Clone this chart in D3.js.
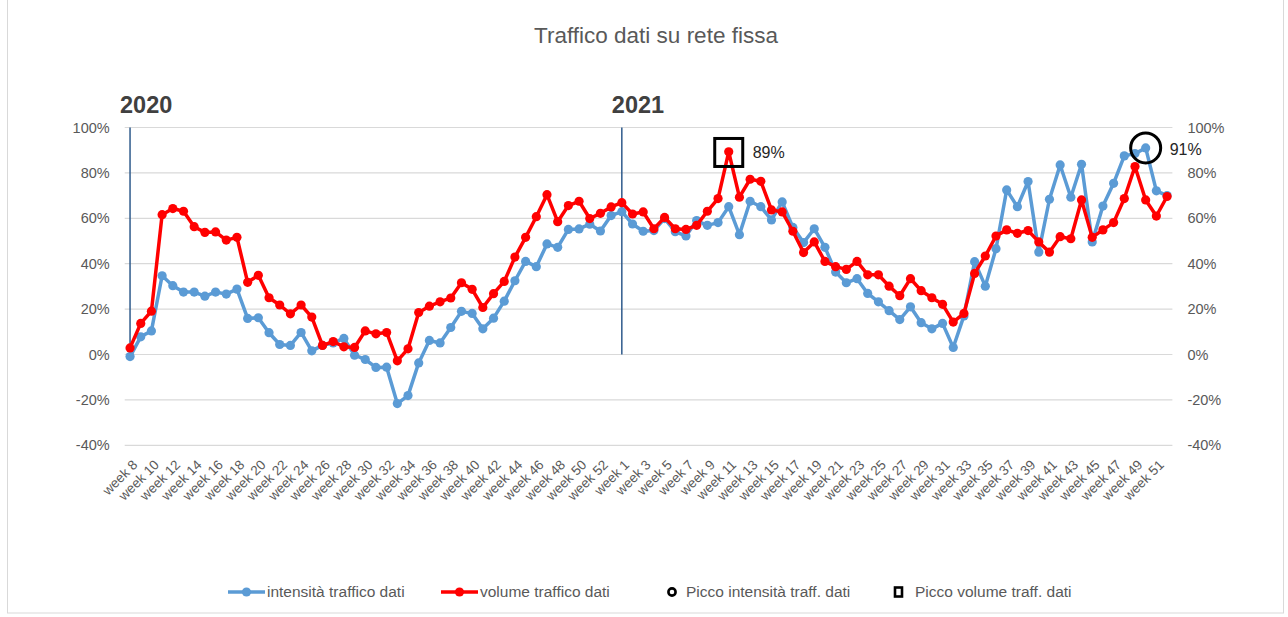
<!DOCTYPE html>
<html>
<head>
<meta charset="utf-8">
<script src="https://cdn.jsdelivr.net/npm/d3@7"></script>
<style>
  body { margin: 0; background: #fff; }
  svg { display: block; font-family: "Liberation Sans", Arial, sans-serif; }
</style>
</head>
<body>
<div id="chart"></div>
<script>
var width = 1288,
    height = 617;

// categories
var weeks2020 = ["week 8","week 9","week 10","week 11","week 12","week 13","week 14","week 15","week 16","week 17",
  "week 18","week 19","week 20","week 21","week 22","week 23","week 24","week 25","week 26","week 27",
  "week 28","week 29","week 30","week 31","week 32","week 33","week 34","week 35","week 36","week 37",
  "week 38","week 39","week 40","week 41","week 42","week 43","week 44","week 45","week 46","week 47",
  "week 48","week 49","week 50","week 51","week 52","week 53"];
var weeks2021 = ["week 1","week 2","week 3","week 4","week 5","week 6","week 7","week 8","week 9","week 10",
  "week 11","week 12","week 13","week 14","week 15","week 16","week 17","week 18","week 19","week 20",
  "week 21","week 22","week 23","week 24","week 25","week 26","week 27","week 28","week 29","week 30",
  "week 31","week 32","week 33","week 34","week 35","week 36","week 37","week 38","week 39","week 40",
  "week 41","week 42","week 43","week 44","week 45","week 46","week 47","week 48","week 49","week 50",
  "week 51","week 52"];

// series values (%)
var intensita = [-0.9, 7.8, 10.4, 34.7, 30.3, 27.5, 27.5, 25.7, 27.5, 26.6,
  28.8, 15.9, 16.2, 9.6, 4.4, 4.0, 9.7, 1.6, 4.0, 5.1,
  7.1, -0.3, -2.2, -5.7, -5.6, -21.6, -18.1, -3.7, 6.2, 5.1,
  11.9, 19.0, 18.1, 11.3, 16.0, 23.5, 32.5, 41.0, 38.7, 48.7,
  47.2, 55.1, 55.3, 57.4, 54.4, 61.2,
  62.9, 57.5, 54.3, 54.6, 59.9, 54.1, 52.2, 59.0, 56.9, 58.1,
  65.1, 52.8, 67.5, 65.1, 59.3, 67.2, 56.0, 49.3, 55.4, 47.2,
  36.3, 31.6, 33.4, 26.9, 23.2, 19.3, 15.4, 21.0, 14.0, 11.3,
  13.7, 3.1, 17.0, 40.9, 30.1, 46.6, 72.5, 65.1, 76.2, 45.1,
  68.4, 83.5, 69.3, 83.8, 49.6, 65.4, 75.4, 87.5, 88.5, 91.0,
  72.1, 70.0];
var volume = [2.9, 13.7, 19.1, 61.6, 64.3, 63.1, 56.3, 53.8, 54.0, 50.4,
  51.6, 31.8, 34.9, 25.0, 21.8, 17.9, 21.8, 16.5, 4.0, 5.7,
  3.4, 3.1, 10.4, 9.1, 9.7, -2.8, 2.5, 18.5, 21.3, 23.2,
  24.9, 31.6, 28.7, 20.7, 26.8, 32.2, 42.9, 51.6, 60.7, 70.4,
  58.5, 65.6, 67.5, 59.9, 62.2, 65.0,
  66.9, 61.9, 62.8, 55.4, 60.4, 55.4, 55.1, 56.9, 63.1, 68.7,
  89.3, 69.3, 77.2, 76.3, 63.7, 62.8, 54.3, 44.9, 49.6, 41.0,
  38.7, 37.5, 41.0, 35.1, 35.1, 30.1, 25.9, 33.4, 28.1, 25.0,
  22.1, 14.3, 18.1, 35.7, 43.4, 52.2, 54.9, 53.4, 54.6, 49.6,
  45.1, 51.9, 51.0, 68.1, 51.6, 54.9, 58.1, 68.7, 82.8, 68.1,
  61.0, 69.6];

var yTicks = [-40, -20, 0, 20, 40, 60, 80, 100];
var yearLabels = [{ label: "2020", week: "2020-week 8" }, { label: "2021", week: "2021-week 1" }];
var peakIntensita = { key: "2021-week 50", value: 91 };
var peakVolume = { key: "2021-week 11", value: 89 };

var keys = weeks2020.map(function(w) { return "2020-" + w; })
  .concat(weeks2021.map(function(w) { return "2021-" + w; }));
var labelOf = {};
keys.forEach(function(k) { labelOf[k] = k.slice(5); });

var margin = { left: 124.7, right: 1172.4, top: 127.5, bottom: 445.3 };

var svg = d3.select("#chart").append("svg")
  .attr("width", width)
  .attr("height", height);

// chart border
svg.append("rect")
  .attr("x", 7.5).attr("y", -1)
  .attr("width", 1276).attr("height", 614)
  .attr("fill", "none")
  .attr("stroke", "#d9d9d9");

var x = d3.scaleBand().domain(keys).range([margin.left, margin.right]);
var y = d3.scaleLinear().domain([-40, 100]).range([margin.bottom, margin.top]);
var cx = function(k) { return x(k) + x.bandwidth() / 2; };

// title
svg.append("text")
  .attr("x", 656).attr("y", 43)
  .attr("text-anchor", "middle")
  .attr("font-size", 22.5)
  .attr("fill", "#595959")
  .text("Traffico dati su rete fissa");

// gridlines
svg.append("g").selectAll("line")
  .data(yTicks)
  .join("line")
  .attr("x1", margin.left).attr("x2", margin.right)
  .attr("y1", function(d) { return y(d); })
  .attr("y2", function(d) { return y(d); })
  .attr("stroke", "#d9d9d9")
  .attr("stroke-width", 1.2);

var fmt = function(d) { return d + "%"; };

// left axis
var yLeft = d3.axisLeft(y).tickValues(yTicks).tickSize(0).tickPadding(15).tickFormat(fmt);
svg.append("g")
  .attr("transform", "translate(" + margin.left + ",0)")
  .call(yLeft)
  .call(function(g) { g.select(".domain").remove(); })
  .selectAll("text")
  .attr("font-size", 14.5)
  .attr("font-family", "Liberation Sans, Arial, sans-serif")
  .attr("fill", "#595959");

// right axis
var yRight = d3.axisRight(y).tickValues(yTicks).tickSize(0).tickPadding(15).tickFormat(fmt);
svg.append("g")
  .attr("transform", "translate(" + margin.right + ",0)")
  .call(yRight)
  .call(function(g) { g.select(".domain").remove(); })
  .selectAll("text")
  .attr("font-size", 14.5)
  .attr("font-family", "Liberation Sans, Arial, sans-serif")
  .attr("fill", "#595959");

// x axis labels, every other week
var xAxis = d3.axisBottom(x)
  .tickValues(keys.filter(function(k, i) { return i % 2 === 0; }))
  .tickSize(0)
  .tickFormat(function(k) { return labelOf[k]; });
svg.append("g")
  .attr("transform", "translate(0," + (margin.bottom + 17) + ")")
  .call(xAxis)
  .call(function(g) { g.select(".domain").remove(); })
  .selectAll("text")
  .attr("font-size", 13.5)
  .attr("font-family", "Liberation Sans, Arial, sans-serif")
  .attr("fill", "#595959")
  .attr("text-anchor", "end")
  .attr("dy", "0.35em")
  .attr("y", 0)
  .attr("transform", "translate(5,0) rotate(-45)");

// year separators
svg.append("g").selectAll("line")
  .data(yearLabels)
  .join("line")
  .attr("x1", function(d) { return cx(d.week); })
  .attr("x2", function(d) { return cx(d.week); })
  .attr("y1", y(100))
  .attr("y2", y(0))
  .attr("stroke", "#2f5b8c")
  .attr("stroke-width", 1.5);

svg.append("g").selectAll("text")
  .data(yearLabels)
  .join("text")
  .attr("x", function(d) { return cx(d.week) - 10; })
  .attr("y", 113)
  .attr("font-size", 23.5)
  .attr("font-weight", "bold")
  .attr("fill", "#404040")
  .text(function(d) { return d.label; });

// series
function drawSeries(values, color) {
  var pts = keys.map(function(k, i) { return { k: k, v: values[i] }; });
  var line = d3.line()
    .x(function(d) { return cx(d.k); })
    .y(function(d) { return y(d.v); });
  svg.append("path")
    .datum(pts)
    .attr("fill", "none")
    .attr("stroke", color)
    .attr("stroke-width", 3.5)
    .attr("stroke-linejoin", "round")
    .attr("d", line);
  svg.append("g").selectAll("circle")
    .data(pts)
    .join("circle")
    .attr("cx", function(d) { return cx(d.k); })
    .attr("cy", function(d) { return y(d.v); })
    .attr("r", 4.6)
    .attr("fill", color);
}
drawSeries(intensita, "#5b9bd5");
drawSeries(volume, "#ff0000");

// peaks
svg.append("rect")
  .attr("x", cx(peakVolume.key) - 14)
  .attr("y", y(peakVolume.value) - 14)
  .attr("width", 28).attr("height", 28)
  .attr("fill", "none")
  .attr("stroke", "#000")
  .attr("stroke-width", 3);
svg.append("text")
  .attr("x", cx(peakVolume.key) + 24)
  .attr("y", y(peakVolume.value) + 6)
  .attr("font-size", 16)
  .attr("fill", "#262626")
  .text(peakVolume.value + "%");

svg.append("circle")
  .attr("cx", cx(peakIntensita.key))
  .attr("cy", y(peakIntensita.value))
  .attr("r", 15)
  .attr("fill", "none")
  .attr("stroke", "#000")
  .attr("stroke-width", 3);
svg.append("text")
  .attr("x", cx(peakIntensita.key) + 24)
  .attr("y", y(peakIntensita.value) + 7)
  .attr("font-size", 16)
  .attr("fill", "#262626")
  .text(peakIntensita.value + "%");

// legend
var ly = 592;
var legend = svg.append("g").attr("font-size", 15.5).attr("fill", "#595959");

function legendLine(x0, color, label) {
  legend.append("line")
    .attr("x1", x0).attr("x2", x0 + 37)
    .attr("y1", ly).attr("y2", ly)
    .attr("stroke", color).attr("stroke-width", 3.5);
  legend.append("circle")
    .attr("cx", x0 + 18.5).attr("cy", ly).attr("r", 4.6).attr("fill", color);
  legend.append("text")
    .attr("x", x0 + 39).attr("y", ly + 5)
    .text(label);
}
legendLine(228, "#5b9bd5", "intensità traffico dati");
legendLine(441, "#ff0000", "volume traffico dati");

legend.append("circle")
  .attr("cx", 672).attr("cy", ly).attr("r", 3.6)
  .attr("fill", "none").attr("stroke", "#000").attr("stroke-width", 2.6);
legend.append("text").attr("x", 686).attr("y", ly + 5).text("Picco intensità traff. dati");

legend.append("rect")
  .attr("x", 895).attr("y", ly - 4.5).attr("width", 7).attr("height", 9)
  .attr("fill", "none").attr("stroke", "#000").attr("stroke-width", 2.6);
legend.append("text").attr("x", 915).attr("y", ly + 5).text("Picco volume traff. dati");
</script>
</body>
</html>
